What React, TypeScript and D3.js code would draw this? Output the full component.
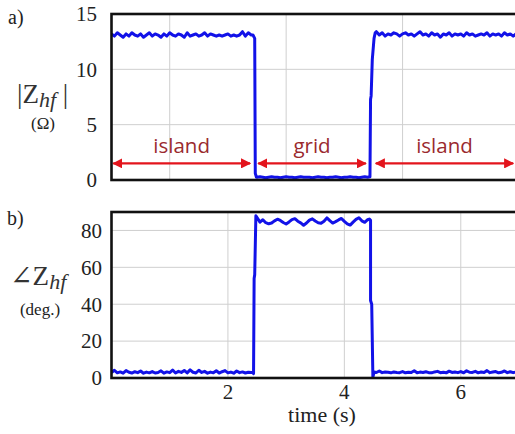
import React from 'react';
import * as d3 from 'd3';

// ---------- data ----------
const timeDomain = [0, 7];
const timeTicks = [2, 4, 6];
const magGridX = [1, 3, 5, 7];
const magTicks = [0, 5, 10, 15];
const magDomain = [0, 15];
const angTicks = [0, 20, 40, 60, 80];
const angDomain = [0, 90];
const sampleStep = 0.05;

// |Zhf| (ohm)
const magIsland1Start = 0;
const magIsland1 = [13.2,13.0,13.3,13.1,12.9,13.2,13.0,13.3,13.1,13.0,13.2,12.9,13.1,13.3,13.0,13.2,13.1,12.9,13.2,13.0,13.3,13.1,13.0,13.2,13.1,12.9,13.3,13.0,13.1,13.2,13.0,13.1,13.3,13.0,13.2,13.1,13.0,13.1,13.0,13.1,13.2,13.0,13.1,13.0,13.1,13.4,13.0,13.3,13.1];
const magDrop: [number, number][] = [[2.43,13.1],[2.46,12.8],[2.47,0.6],[2.49,0.25]];
const magGridStart = 2.5;
const magGrid = [0.25,0.3,0.25,0.2,0.25,0.3,0.25,0.25,0.2,0.25,0.3,0.25,0.25,0.2,0.25,0.3,0.25,0.25,0.25,0.2,0.25,0.3,0.25,0.25,0.2,0.25,0.25,0.3,0.25,0.2,0.25,0.25,0.3,0.25,0.25,0.2,0.25,0.3,0.25];
const magRise: [number, number][] = [[4.44,0.3],[4.45,7.3],[4.46,7.6],[4.48,10.9],[4.51,12.8],[4.53,13.3]];
const magIsland2Start = 4.55;
const magIsland2 = [13.4,13.1,13.3,13.0,13.2,13.1,13.3,13.2,13.0,13.2,13.3,13.1,13.2,13.0,13.2,13.4,13.1,13.2,13.0,13.3,13.1,13.2,12.9,13.2,13.1,13.3,13.0,13.2,13.1,13.2,13.0,13.3,13.1,13.2,13.0,13.1,13.2,13.1,13.3,13.0,13.2,13.1,13.2,13.0,13.3,13.1,13.2,13.0,13.2,13.1];

// angle Zhf (deg)
const angIsland1Start = 0;
const angIsland1 = [3.0,4.2,2.8,3.3,2.6,4.0,3.1,2.7,3.4,2.9,3.8,2.6,3.2,2.8,3.5,2.7,3.0,3.9,2.6,3.3,2.9,4.3,2.7,3.6,3.0,4.1,2.8,4.4,3.1,2.7,4.2,3.0,3.6,2.6,3.2,2.8,3.9,2.7,3.4,4.0,2.8,3.2,2.6,3.8,2.9,3.3,2.7,3.1,3.0];
const angRise: [number, number][] = [[2.43,3.0],[2.44,2.4],[2.45,54],[2.46,56],[2.48,88],[2.5,87]];
const angGridStart = 2.55;
const angGrid = [84.5,85.8,84.2,83.6,84.0,85.2,86.1,85.4,84.3,83.5,84.6,85.9,86.4,85.0,84.1,82.8,84.0,85.6,86.3,85.1,84.2,83.9,85.0,86.8,85.3,84.0,84.8,85.7,86.5,84.9,83.6,82.9,84.5,86.0,86.9,85.2,84.4,85.8];
const angFall: [number, number][] = [[4.43,86.2],[4.45,85.5],[4.45,42],[4.47,40],[4.49,0.5],[4.51,3.2]];
const angIsland2Start = 4.55;
const angIsland2 = [3.0,3.8,2.9,3.2,3.1,2.8,3.3,3.0,2.9,3.5,2.8,3.1,3.0,3.9,2.8,3.2,3.0,3.4,2.9,2.8,3.3,3.6,2.9,3.1,2.8,3.7,3.0,3.2,2.9,3.5,2.8,3.9,3.1,3.0,3.6,2.8,3.3,3.0,4.0,2.9,3.2,3.5,2.8,3.1,3.8,2.9,3.4,2.9,3.2,3.0];

// mode annotations (time span)
const modeLabels = ['island', 'grid', 'island'];
const modeStarts = [0.03, 2.52, 4.54];
const modeEnds = [2.38, 4.37, 6.9];
const arrowLevel = 1.5;
const labelLevel = 2.4;

// ---------- helpers ----------
function plateau(start: number, values: number[]): [number, number][] {
  return values.map((v, i) => [start + i * sampleStep, v]);
}

const magSeries: [number, number][] = [
  ...plateau(magIsland1Start, magIsland1),
  ...magDrop,
  ...plateau(magGridStart, magGrid),
  ...magRise,
  ...plateau(magIsland2Start, magIsland2),
];
const angSeries: [number, number][] = [
  ...plateau(angIsland1Start, angIsland1),
  ...angRise,
  ...plateau(angGridStart, angGrid),
  ...angFall,
  ...plateau(angIsland2Start, angIsland2),
];

const W = 515;
const H = 434;
const left = 111.5;
const right = 519;
const topA = 14, botA = 180;
const topB = 212, botB = 378;

const x = d3.scaleLinear().domain(timeDomain).range([left, right]);
const yA = d3.scaleLinear().domain(magDomain).range([botA, topA]);
const yB = d3.scaleLinear().domain(angDomain).range([botB, topB]);

const serif = "'Liberation Serif', 'DejaVu Serif', serif";
const sans = "'Open Sans', 'Lato', sans-serif";
const blue = '#1212e8';
const gridCol = '#cfcfcf';

export default function App() {
  const lineA = d3.line<[number, number]>().x(d => x(d[0])).y(d => yA(d[1]))(magSeries) || '';
  const lineB = d3.line<[number, number]>().x(d => x(d[0])).y(d => yB(d[1]))(angSeries) || '';

  return (
    <svg width={W} height={H} style={{ position: 'absolute', left: 0, top: 0, background: '#fff' }}>
      <defs>
        <clipPath id="clipA"><rect x={left} y={topA} width={right - left} height={botA - topA} /></clipPath>
        <clipPath id="clipB"><rect x={left} y={topB} width={right - left} height={botB - topB} /></clipPath>
        <marker id="arr" viewBox="0 0 10 10" refX="9" refY="5" markerWidth="4.2" markerHeight="4.2" orient="auto-start-reverse" markerUnits="strokeWidth">
          <path d="M0,0 L10,5 L0,10 z" fill="#e3141c" />
        </marker>
      </defs>
      <rect x={0} y={0} width={W} height={H} fill="#fff" />

      {/* ---- panel a ---- */}
      {magGridX.map(t => (
        <line key={'ga' + t} x1={x(t)} x2={x(t)} y1={topA} y2={botA} stroke={gridCol} strokeWidth={1} />
      ))}
      {magTicks.filter(v => v > 0 && v < 15).map(v => (
        <line key={'ha' + v} x1={left} x2={right} y1={yA(v)} y2={yA(v)} stroke={gridCol} strokeWidth={1} />
      ))}
      {modeLabels.map((lab, i) => (
        <g key={'m' + i}>
          <line x1={x(modeStarts[i])} x2={x(modeEnds[i])} y1={yA(arrowLevel)} y2={yA(arrowLevel)}
            stroke="#e3141c" strokeWidth={2.4} markerStart="url(#arr)" markerEnd="url(#arr)" />
          <text x={(x(modeStarts[i]) + x(modeEnds[i])) / 2} y={yA(labelLevel)} textAnchor="middle"
            fontFamily={sans} fontSize={20.5} fill="#9a2a2e">{lab}</text>
        </g>
      ))}
      <path d={lineA} fill="none" stroke={blue} strokeWidth={3} strokeLinejoin="round" clipPath="url(#clipA)" />
      <rect x={left} y={topA} width={right - left} height={botA - topA} fill="none" stroke="#111" strokeWidth={2.6} />
      {magTicks.map(v => (
        <text key={'ta' + v} x={97} y={yA(v)} dy="0.35em" textAnchor="end" fontFamily={serif} fontSize={21} fill="#222">{v}</text>
      ))}
      <text x={8} y={24} fontFamily={serif} fontSize={20} fill="#222">a)</text>
      <text x={17} y={103} fontFamily={serif} fontSize={27} fill="#333">
        |Z<tspan fontStyle="italic" fontSize={22} dy={4}>hf</tspan><tspan dy={-4}> |</tspan>
      </text>
      <text x={43} y={129} textAnchor="middle" fontFamily={serif} fontSize={17} fill="#222">(Ω)</text>

      {/* ---- panel b ---- */}
      {timeTicks.map(t => (
        <line key={'gb' + t} x1={x(t)} x2={x(t)} y1={topB} y2={botB} stroke={gridCol} strokeWidth={1} />
      ))}
      {angTicks.filter(v => v > 0).map(v => (
        <line key={'hb' + v} x1={left} x2={right} y1={yB(v)} y2={yB(v)} stroke={gridCol} strokeWidth={1} />
      ))}
      <path d={lineB} fill="none" stroke={blue} strokeWidth={3} strokeLinejoin="round" clipPath="url(#clipB)" />
      <rect x={left} y={topB} width={right - left} height={botB - topB} fill="none" stroke="#111" strokeWidth={2.6} />
      {angTicks.map(v => (
        <text key={'tb' + v} x={102} y={yB(v)} dy="0.35em" textAnchor="end" fontFamily={serif} fontSize={21} fill="#222">{v}</text>
      ))}
      {timeTicks.map(t => (
        <text key={'xt' + t} x={x(t)} y={399} textAnchor="middle" fontFamily={serif} fontSize={21} fill="#222">{t}</text>
      ))}
      <text x={322} y={422} textAnchor="middle" fontFamily={serif} fontSize={22} fill="#222">time (s)</text>
      <text x={7} y={225} fontFamily={serif} fontSize={20} fill="#222">b)</text>
      <text x={10} y={285} fontFamily={serif} fontSize={27} fill="#333">
        ∠Z<tspan fontStyle="italic" fontSize={22} dy={4}>hf</tspan>
      </text>
      <text x={40} y={315} textAnchor="middle" fontFamily={serif} fontSize={17} fill="#222">(deg.)</text>
    </svg>
  );
}
